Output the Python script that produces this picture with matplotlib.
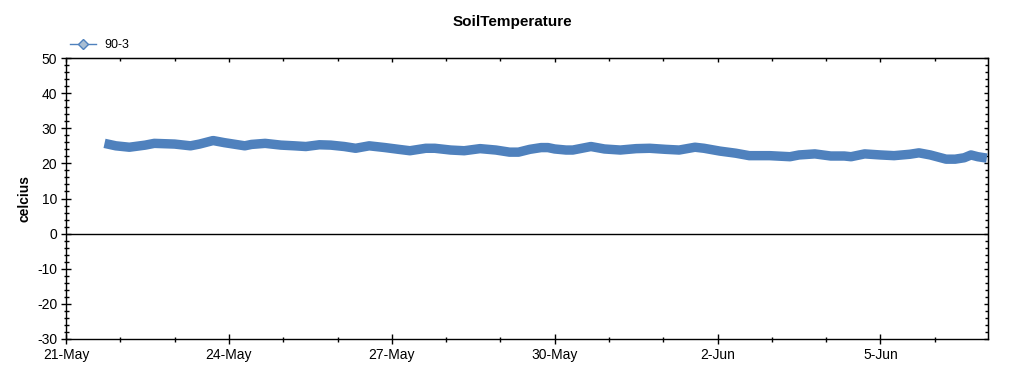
import matplotlib
matplotlib.use("Agg")
import matplotlib.pyplot as plt
import matplotlib.dates as mdates
from matplotlib.lines import Line2D
import pandas as pd

plt.rcParams['font.family'] = ['Liberation Sans', 'DejaVu Sans']
plt.rcParams['axes.unicode_minus'] = False

# hours after 21-May 00:00 and soil temperature (celcius)
hours = [17, 22, 28, 35, 39, 48, 55, 59, 65, 70, 79, 82, 88, 95, 101, 106,
         112, 117, 123, 128, 134, 141, 147, 152, 159, 163, 170, 176, 183, 190,
         196, 200, 205, 210, 213, 216, 221, 224, 232, 238, 245, 252, 258, 265,
         271, 278, 282, 289, 296, 302, 311, 320, 324, 331, 338, 344, 347, 353,
         360, 366, 373, 377, 382, 389, 393, 397, 400, 403, 407]
temps = [25.7, 25.0, 24.6, 25.2, 25.7, 25.5, 25.0, 25.5, 26.5, 25.9, 25.0, 25.4,
         25.7, 25.2, 25.0, 24.8, 25.3, 25.2, 24.8, 24.3, 25.0, 24.5, 24.0, 23.6,
         24.3, 24.3, 23.8, 23.6, 24.2, 23.8, 23.2, 23.2, 24.0, 24.5, 24.5, 24.1,
         23.8, 23.8, 24.8, 24.1, 23.8, 24.2, 24.3, 24.0, 23.8, 24.6, 24.3, 23.5,
         22.9, 22.2, 22.2, 21.9, 22.4, 22.7, 22.1, 22.1, 21.9, 22.7, 22.4, 22.2,
         22.6, 23.0, 22.4, 21.2, 21.2, 21.6, 22.4, 21.9, 21.5]
series_name = '90-3'
tick_labels = ['21-May', '24-May', '27-May', '30-May', '2-Jun', '5-Jun']

start = pd.Timestamp('2013-05-21')
times = start + pd.to_timedelta(hours, unit='h')
major_days = [start + pd.Timedelta(days=3 * i) for i in range(len(tick_labels))]

blue = '#4F81BD'

fig = plt.figure(figsize=(10.24, 3.75), dpi=100)
ax = fig.add_axes([0.0645, 0.096, 0.9003, 0.7493])

ax.plot(times, temps, color=blue, lw=6.8, solid_capstyle='butt',
        solid_joinstyle='round')
ax.axhline(0, color='black', lw=1)

ax.set_xlim(start, start + pd.Timedelta(hours=407.5))
ax.set_ylim(-30, 50)
ax.set_yticks(range(-30, 51, 10))
ax.set_yticks(range(-30, 51, 2), minor=True)
ax.set_xticks(major_days)
ax.set_xticklabels(tick_labels)
ax.xaxis.set_minor_locator(mdates.DayLocator())

ax.tick_params(which='both', direction='inout', labelsize=10, width=1, pad=3)
ax.tick_params(which='major', length=6.5)
ax.tick_params(which='minor', length=3.6)
for sp in ax.spines.values():
    sp.set_linewidth(1)

# inward ticks on the top and right edges
top = ax.secondary_xaxis('top')
top.set_xticks(major_days)
top.xaxis.set_minor_locator(mdates.DayLocator())
right = ax.secondary_yaxis('right')
right.set_yticks(range(-30, 51, 10))
right.set_yticks(range(-30, 51, 2), minor=True)
for sec in (top, right):
    sec.tick_params(which='both', direction='in', width=1, labelbottom=False,
                    labeltop=False, labelleft=False, labelright=False)
    sec.tick_params(which='major', length=3.2)
    sec.tick_params(which='minor', length=2)

ax.set_ylabel('celcius', fontsize=10, fontweight='bold', labelpad=4)
fig.suptitle('SoilTemperature', fontsize=11, fontweight='bold', y=0.96)

handle = Line2D([], [], color=blue, lw=1, marker='D', markersize=5,
                markerfacecolor='#A9BED3', markeredgecolor=blue)
fig.legend([handle], [series_name], loc='upper left',
           bbox_to_anchor=(0.063, 0.908), frameon=False, fontsize=9,
           handlelength=2.1, handletextpad=0.7, borderaxespad=0)

fig.savefig('out.png', dpi=100)
